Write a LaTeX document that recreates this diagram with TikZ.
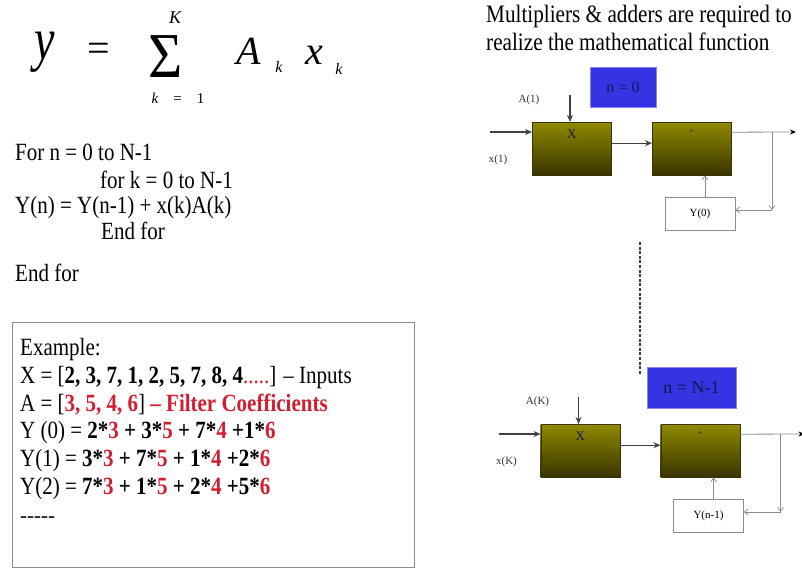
\documentclass[tikz,border=0pt]{standalone}
\usepackage{fontspec}
\setmainfont{Liberation Serif}
\usetikzlibrary{arrows.meta,positioning}
\definecolor{oltop}{HTML}{8E8A00}
\definecolor{olbot}{HTML}{3A3300}
\definecolor{nblue}{HTML}{3434E2}
\definecolor{nink}{HTML}{16164A}
\definecolor{coef}{HTML}{D11F2F}
\definecolor{gr}{HTML}{8C8C8C}
\newcommand{\fs}[1]{\fontsize{#1}{#1}\selectfont}
\newcommand{\cf}[1]{\textcolor{coef}{\textbf{#1}}}
\newcommand{\tall}[1]{\scalebox{1}[1.18]{#1}}

\tikzset{
  txt/.style={anchor=base west,inner sep=0pt,font=\fs{21}},
  eq/.style={anchor=base,inner sep=0pt},
  unitbox/.style={anchor=north west,draw=olbot,top color=oltop,bottom color=olbot,
    minimum width=79pt,minimum height=53pt,inner sep=0pt},
  stagebox/.style={fill=nblue,draw=nblue!60!white,text=nink,inner sep=0pt},
  regbox/.style={draw=gr,fill=white,font=\fs{11},minimum width=70pt,minimum height=33pt,inner sep=0pt},
  tag/.style={font=\fs{11},inner sep=0pt,text=black!80},
  sig/.style={-{Stealth[length=7pt,width=6pt]},line width=1.2pt,draw=black!75},
  outw/.style={-{Stealth[length=6pt,width=5pt,color=black]},draw=gr,line width=0.8pt},
  fb/.style={-{Straight Barb[length=4pt,width=6pt]},draw=gr,line width=0.7pt},
}

\begin{document}
\begin{tikzpicture}[x=1pt,y=-1pt]
  \useasboundingbox (0,0) rectangle (802,569);

  % the sum
  \node[eq,font=\fs{46}\itshape] (ylhs) at (45,60) {\scalebox{1}[1.3]{y}};
  \node[eq,font=\fs{40}] (eqs) at (99,62) {=};
  \node[eq,font=\fs{64}] (sig) at (166,78) {\scalebox{0.92}[1]{Σ}};
  \node[eq,font=\fs{18}\itshape] (ktop) at (175,24) {K};
  \node[eq,font=\fs{15}] (kbot) at (178,104) {\textit{k}\quad=\quad1};
  \node[eq,font=\fs{40}\itshape] (acoef) at (249,65) {A};
  \node[eq,font=\fs{16}\itshape] (asub) at (279,73) {k};
  \node[eq,font=\fs{40}\itshape] (xin) at (314,65) {x};
  \node[eq,font=\fs{16}\itshape] (xsub) at (339,75) {k};

  % loops
  \node[txt] (p1) at (15,161) {\tall{For n = 0 to N-1}};
  \node[txt] (p2) at (100,189) {\tall{for k = 0 to N-1}};
  \node[txt] (p3) at (15,214) {\tall{Y(n) = Y(n-1) + x(k)A(k)}};
  \node[txt] (p4) at (101,240) {\tall{End for}};
  \node[txt] (p5) at (15,281) {\tall{End for}};

  % worked example
  \node[draw=gr,line width=1.4pt,anchor=north west,inner sep=0pt,
    minimum width=402pt,minimum height=245pt] (exbox) at (12,322) {};
  \node[txt] (ex0) at (20,355) {\tall{Example:}};
  \node[txt] (ex1) at (20,383) {\tall{X = [\textbf{2, 3, 7, 1, 2, 5, 7, 8, 4}\textcolor{coef}{.....}] – Inputs}};
  \node[txt] (ex2) at (20,411) {\tall{A = [\cf{3, 5, 4, 6}] \cf{– Filter Coefficients}}};
  \foreach \r/\a/\b/\c/\d [count=\i] in {Y (0)/2/3/7/1, Y(1)/3/7/1/2, Y(2)/7/1/2/5} {
    \node[txt] (yrow\i) at (20,410+28*\i)
      {\tall{\r{} = \textbf{\a*}\cf{3}\textbf{ + \b*}\cf{5}\textbf{ + \c*}\cf{4}\textbf{ +\d*}\cf{6}}};
  }
  \node[txt] (ex6) at (20,522) {-{}-{}-{}-{}-};

  % hardware
  \node[txt,font=\fs{21.2}] (title1) at (486,23) {\tall{Multipliers \& adders are required to}};
  \node[txt,font=\fs{21.2}] (title2) at (486,51) {\tall{realize the mathematical function}};

  \foreach \s/\dx/\dy/\coefl/\inl/\regl in {1/0/0/A(1)/x(1)/Y(0), 2/8.5/302/A(K)/x(K)/Y(n-1)} {
    \begin{scope}[shift={(\dx,\dy)}]
      \node[unitbox,label={[anchor=north,yshift=-4pt,font=\fs{13},text=nink]north:X}] (mul\s) at (532,122) {};
      \node[unitbox,label={[anchor=north,yshift=-3pt,font=\fs{8},text=nink]north:+}] (add\s) at (652,122) {};
      \node[regbox] (reg\s) at (700,214) {\regl};
      \node[tag] (cl\s) at (529,100) {\coefl};
      \node[tag] (il\s) at (498,160) {\inl};
      \coordinate (in\s) at (490,132);
      \coordinate (cin\s) at (570,95);
      \coordinate (out\s) at (796,132);
      \coordinate (tap\s) at (772,132);
      \coordinate (turn\s) at (772,210);
      \draw[sig] (in\s) -- (in\s -| mul\s.west);
      \draw[sig] (cin\s) -- (cin\s |- mul\s.north);
      \draw[sig] ([yshift=5.5pt]mul\s.east) -- ([yshift=5.5pt]add\s.west);
      \draw[outw] ([yshift=16.5pt]add\s.east) -- (out\s);
      \draw[fb] (tap\s) -- (turn\s);
      \draw[fb] (turn\s) -- (turn\s -| reg\s.east);
      \draw[fb] ([xshift=5pt]reg\s.north) -- ([xshift=5pt]reg\s.north |- add\s.south);
    \end{scope}
  }
  \node[stagebox,font=\fs{16},minimum width=66pt,minimum height=40pt] (st1) at (623,87) {n = 0};
  \node[stagebox,font=\fs{18},minimum width=89pt,minimum height=41pt] (st2) at (691.5,387.5) {n = N-1};

  % between the stages
  \coordinate (dtop) at (640,242);
  \coordinate (dbot) at (640,374);
  \draw[black!75,line width=2.6pt,dash pattern=on 3pt off 1.6pt] (dtop) -- (dbot);
\end{tikzpicture}
\end{document}
